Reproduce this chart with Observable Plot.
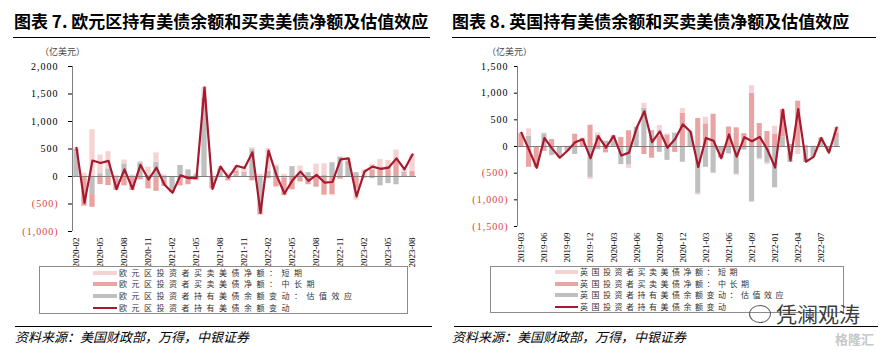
<!DOCTYPE html>
<html><head><meta charset="utf-8">
<script src="https://cdn.jsdelivr.net/npm/d3@7"></script>
<script src="https://cdn.jsdelivr.net/npm/@observablehq/plot@0.6"></script>
<style>
body{margin:0;background:#fff;width:887px;height:352px;overflow:hidden;position:relative;font-family:"Noto Sans CJK SC",sans-serif}
.abs{position:absolute}
.title{font-size:17px;font-weight:700;white-space:nowrap;color:#000;line-height:20px}
.rule{height:1.4px;background:#000}
.unit{font-size:9px;color:#444;white-space:nowrap;line-height:10px}
.legend{border:1px solid #8c8c8c;box-sizing:border-box}
.row{position:absolute;height:8px;line-height:8px;font-size:8px;white-space:nowrap;color:#333}
.sw{position:absolute}
.src{font-size:13px;font-style:italic;white-space:nowrap;line-height:14px;color:#000}
svg{display:block;overflow:visible}
</style></head><body>
<script>
// ---------- Euro area (图表 7) ----------
const euLabels = ["2020-02","2020-03","2020-04","2020-05","2020-06","2020-07","2020-08","2020-09","2020-10","2020-11","2020-12","2021-01","2021-02","2021-03","2021-04","2021-05","2021-06","2021-07","2021-08","2021-09","2021-10","2021-11","2021-12","2022-01","2022-02","2022-03","2022-04","2022-05","2022-06","2022-07","2022-08","2022-09","2022-10","2022-11","2022-12","2023-01","2023-02","2023-03","2023-04","2023-05","2023-06","2023-07","2023-08"];
const euChange = [520,-480,290,245,285,-230,130,-225,210,-55,160,-150,-295,20,-30,-25,1620,-225,180,-20,195,155,440,-660,470,20,-310,-70,90,-80,30,-110,-100,310,330,-360,90,180,140,160,330,130,400];
const euShort = [30,60,850,340,310,20,70,30,20,150,170,30,0,-15,0,20,200,0,50,60,100,80,30,40,410,30,40,-10,150,0,225,200,-20,10,50,-200,120,100,150,100,200,50,310];
const euMid = [40,-520,-230,-145,-165,-210,-170,-255,-60,-225,-270,-120,-45,-165,-150,-75,220,-75,30,-30,55,25,-80,-200,-40,-190,-320,-240,-100,-150,-195,-340,-330,-50,80,-230,-30,120,160,190,280,30,90];
const euVal = [450,-20,-330,50,140,-40,230,0,250,20,260,-60,-250,200,120,30,1200,-150,100,-50,40,50,490,-500,100,180,-30,180,40,70,0,30,250,350,200,70,0,-40,-170,-130,-150,50,0];
const euYTicks = [-1000,-500,0,500,1000,1500,2000];

// ---------- UK (图表 8) ----------
const ukLabels = ["2019-03","2019-04","2019-05","2019-06","2019-07","2019-08","2019-09","2019-10","2019-11","2019-12","2020-01","2020-02","2020-03","2020-04","2020-05","2020-06","2020-07","2020-08","2020-09","2020-10","2020-11","2020-12","2021-01","2021-02","2021-03","2021-04","2021-05","2021-06","2021-07","2021-08","2021-09","2021-10","2021-11","2022-01","2022-02","2022-03","2022-04","2022-05","2022-06","2022-07","2022-08","2022-09"];
const ukChange = [260,-60,-400,160,-40,-210,-80,80,135,-220,195,-20,200,-170,-115,350,660,80,285,-25,140,415,275,-385,160,105,-220,225,-190,175,100,180,-60,-395,690,-260,700,-285,-195,160,-115,355];
const ukShort = [20,140,0,10,0,0,10,0,0,-40,50,0,0,0,-60,0,90,0,195,20,0,90,0,-30,125,0,0,0,-20,0,140,-20,-40,155,0,0,-150,0,0,0,-55,100];
const ukMid = [240,-390,-380,-90,130,-30,-30,230,155,400,205,-120,80,170,295,-10,-150,-220,200,215,-110,620,0,525,425,605,-120,365,350,240,1000,430,280,225,510,40,850,15,5,60,0,85];
const ukVal = [0,190,-20,240,-170,-180,-60,-150,-20,-580,-60,100,120,-340,-350,360,720,300,-110,-260,250,-295,275,-880,-390,-500,-100,-140,-520,-65,-1040,-230,-300,-775,180,-300,0,-300,-200,100,-60,170];
const ukYTicks = [-1500,-1000,-500,0,500,1000,1500];

const seriesKeys = ["val","mid","short"];
const seriesColors = ["#BFBFBF","#E9A3A3","#F6D3D3"];
const lineColor = "#A6192E";
const negColor = "#E0403A";
const axisGray = "#7f7f7f";

const fmt = v => v < 0 ? "(" + d3.format(",")(-v) + ")" : d3.format(",")(v);

function add(html, cls, style) {
  const d = document.createElement("div");
  d.className = "abs " + (cls || "");
  Object.assign(d.style, style);
  if (html != null) d.textContent = html;
  document.body.appendChild(d);
  return d;
}

function panel(cfg) {
  const {labels, change, short, mid, val, yTicks, left, width, marginLeft, marginRight, marginBottom, title, legendTexts, lg, tickSize, tickPadding} = cfg;
  const n = labels.length;
  const rows = [];
  const src = {val, mid, short};
  seriesKeys.forEach(s => src[s].forEach((v, i) => rows.push({i, s, v})));
  const pts = change.map((v, i) => ({i, v}));
  const svg = Plot.plot({
    width, height: 215, marginLeft, marginRight, marginTop: 11, marginBottom,
    style: {fontFamily: "'Liberation Serif', serif", fontSize: "10px", color: "#000", background: "transparent", overflow: "visible"},
    x: {domain: [-0.5, n - 0.5], ticks: d3.range(0, n, 3), tickFormat: i => labels[i], tickRotate: -90, tickSize: 0, tickPadding: 6, label: null},
    y: {domain: [yTicks[0], yTicks[yTicks.length - 1]], ticks: yTicks, tickFormat: fmt, tickSize, tickPadding, label: null},
    color: {domain: seriesKeys, range: seriesColors},
    marks: [
      Plot.rectY(rows, Plot.stackY({x: "i", x1: d => d.i - 0.33, x2: d => d.i + 0.33, y: "v", fill: "s"})),
      Plot.ruleX([-0.5], {stroke: axisGray, strokeWidth: 1}),
      Plot.ruleY([0], {stroke: "#3a3a3a", strokeWidth: 1}),
      Plot.line(pts, {x: "i", y: "v", stroke: lineColor, strokeWidth: 2.2})
    ]
  });
  const s = d3.select(svg);
  s.selectAll("text").each(function() {
    const t = this.textContent;
    if (/^\(?[\d,]+\)?$/.test(t)) {
      d3.select(this).style("letter-spacing", "1px").style("font-size", "10px");
      if (t.startsWith("(")) d3.select(this).attr("fill", negColor);
    } else if (/^\d{4}-\d{2}$/.test(t)) {
      d3.select(this).style("font-size", "9px");
    }
  });
  s.selectAll("line").each(function() {
    const x1 = +this.getAttribute("x1"), x2 = +this.getAttribute("x2");
    if (x1 !== x2 || (this.getAttribute("x2") && x2 < 0)) d3.select(this).attr("stroke", axisGray);
  });
  const host = add(null, "", {left: left + "px", top: "55px"});
  host.appendChild(svg);

  add(title, "title", {left: (left + cfg.titleX) + "px", top: "11px"});
  add(null, "rule", {left: (left + cfg.ruleX) + "px", top: "37px", width: cfg.ruleW + "px"});
  add("（亿美元）", "unit", {left: (left + cfg.unitX) + "px", top: "47px"});

  add(null, "legend", {left: lg.x + "px", top: lg.y + "px", width: lg.w + "px", height: lg.h + "px"});
  const kinds = ["short","mid","val","line"];
  const cols = {short: seriesColors[2], mid: seriesColors[1], val: seriesColors[0], line: lineColor};
  kinds.forEach((k, j) => {
    const cy = lg.rows[j];
    add(null, "sw", {left: lg.sx + "px", top: (cy - (k === "line" ? 1 : 2)) + "px", width: lg.sw + "px", height: (k === "line" ? 2 : 4) + "px", background: cols[k]});
    add(legendTexts[j], "row", {left: lg.tx + "px", top: (cy - 4) + "px", letterSpacing: lg.ls + "px"});
  });
  add(null, "rule", {left: (left + cfg.ruleX + 2) + "px", top: "325.5px", width: cfg.ruleW + "px", height: "1.3px"});
  add("资料来源：美国财政部，万得，中银证券", "src", {left: (left + cfg.srcX) + "px", top: "330px"});
}

panel({
  labels: euLabels, change: euChange, short: euShort, mid: euMid, val: euVal, yTicks: euYTicks,
  left: 0, width: 443, marginLeft: 72, marginRight: 27, marginBottom: 39, tickSize: 4, tickPadding: 10,
  title: "图表 7. 欧元区持有美债余额和买卖美债净额及估值效应",
  titleX: 14, ruleX: 13, ruleW: 417, unitX: 40, srcX: 15,
  legendTexts: ["欧元区投资者买卖美债净额：短期","欧元区投资者买卖美债净额：中长期","欧元区投资者持有美债余额变动：估值效应","欧元区投资者持有美债余额变动"],
  lg: {x: 39, y: 266, w: 369, h: 48, rows: [272.5, 284.2, 295.9, 307.6], sx: 93, sw: 24, tx: 119, ls: 4.5}
});

panel({
  labels: ukLabels, change: ukChange, short: ukShort, mid: ukMid, val: ukVal, yTicks: ukYTicks,
  left: 445, width: 442, marginLeft: 72, marginRight: 47, marginBottom: 44, tickSize: 3, tickPadding: 6,
  title: "图表 8. 英国持有美债余额和买卖美债净额及估值效应",
  titleX: 7, ruleX: 7, ruleW: 424, unitX: 42, srcX: 7,
  legendTexts: ["英国投资者买卖美债净额：短期","英国投资者买卖美债净额：中长期","英国投资者持有美债余额变动：估值效应","英国投资者持有美债余额变动"],
  lg: {x: 490, y: 266, w: 354, h: 47, rows: [272, 283.7, 295.4, 307.1], sx: 555, sw: 23, tx: 580, ls: 3.5}
});

// watermark
add("凭澜观涛", "", {left: "776px", top: "301px", fontSize: "21px", color: "#3c3c3c", whiteSpace: "nowrap", lineHeight: "24px"});
add(null, "", {left: "749px", top: "305px", width: "20px", height: "16px", border: "1.5px solid #555", borderRadius: "50%"});
add("格隆汇", "", {left: "835px", top: "331px", fontSize: "13px", color: "#c8c8c8", fontWeight: "700", whiteSpace: "nowrap", lineHeight: "15px"});
</script>
</body></html>
